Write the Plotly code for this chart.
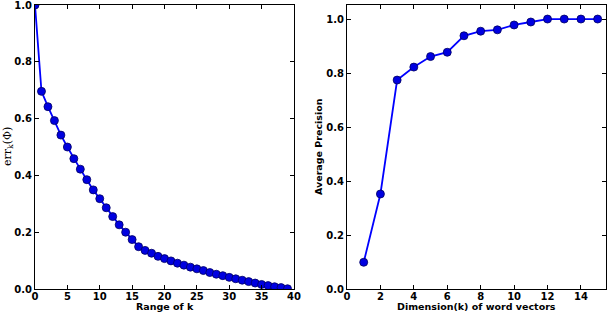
import plotly.graph_objects as go

k_range = list(range(0, 40))
err_k = [1.0, 0.696, 0.642, 0.593, 0.542, 0.500, 0.459, 0.422, 0.385, 0.349,
         0.318, 0.286, 0.255, 0.226, 0.200, 0.174, 0.149, 0.136, 0.126, 0.115,
         0.107, 0.099, 0.091, 0.084, 0.077, 0.071, 0.065, 0.058, 0.052, 0.047,
         0.041, 0.036, 0.031, 0.026, 0.021, 0.016, 0.012, 0.008, 0.005, 0.001]

dims = list(range(1, 16))
avg_prec = [0.099, 0.352, 0.774, 0.822, 0.861, 0.877, 0.938, 0.955, 0.960,
            0.978, 0.989, 1.0, 1.0, 1.0, 1.0]

left_x_ticks = [0, 5, 10, 15, 20, 25, 30, 35, 40]
right_x_ticks = [0, 2, 4, 6, 8, 10, 12, 14]
y_ticks = [0.0, 0.2, 0.4, 0.6, 0.8, 1.0]

W, H = 608, 312
blue = "#0000ff"
mk = dict(size=8, color="#0000e0", line=dict(color="#000060", width=0.8))

fig = go.Figure()
fig.add_trace(go.Scatter(x=k_range, y=err_k, mode="lines+markers",
                         line=dict(color=blue, width=1.8), marker=mk,
                         xaxis="x", yaxis="y", showlegend=False))
fig.add_trace(go.Scatter(x=dims, y=avg_prec, mode="lines+markers",
                         line=dict(color=blue, width=1.8), marker=mk,
                         xaxis="x2", yaxis="y2", showlegend=False))

tf = dict(family="DejaVu Sans", size=10, color="black", weight="bold")
ttl = dict(family="DejaVu Sans", size=9.5, color="black", weight="bold")
common = dict(showline=True, linecolor="black", linewidth=1, mirror="ticks",
              ticks="inside", ticklen=4, tickcolor="black", showgrid=False,
              zeroline=False, tickfont=tf, automargin=False,
              ticklabeloverflow="allow")

def px(x, y):
    return dict(x=x / W, y=1 - y / H, xref="paper", yref="paper", showarrow=False,
                xanchor="center", yanchor="middle")

ydom = [1 - 289 / H, 1 - 5 / H]
fig.update_layout(
    width=W, height=H, margin=dict(l=0, r=0, t=0, b=0, autoexpand=False),
    plot_bgcolor="white", paper_bgcolor="white",
    xaxis=dict(domain=[35 / W, 294 / W], range=[0, 40.0001], tickvals=left_x_ticks,
               anchor="y", ticklabelstandoff=-2, **common),
    yaxis=dict(domain=ydom, range=[0, 1.0001], tickvals=y_ticks, tickformat=".1f",
               anchor="x", **common),
    xaxis2=dict(domain=[347 / W, 606 / W], range=[0, 15.5], tickvals=right_x_ticks,
                anchor="y2", ticklabelstandoff=-2, **common),
    yaxis2=dict(domain=ydom, range=[0, 1.052], tickvals=y_ticks, tickformat=".1f",
                anchor="x2", **common),
    annotations=[
        dict(text="Range of k", font=ttl, **px(165, 306.5)),
        dict(text="Dimension(k) of word vectors", font=ttl, **px(476, 306.5)),
        dict(text="err<sub>k</sub>(Φ)", textangle=-90,
             font=dict(family="DejaVu Serif", size=11, color="black"), **px(8, 147)),
        dict(text="Average Precision", textangle=-90, font=ttl, **px(318, 147)),
    ],
)

fig.write_html("out.html", config={"displayModeBar": False},
               post_script="document.body.style.margin='0';")
